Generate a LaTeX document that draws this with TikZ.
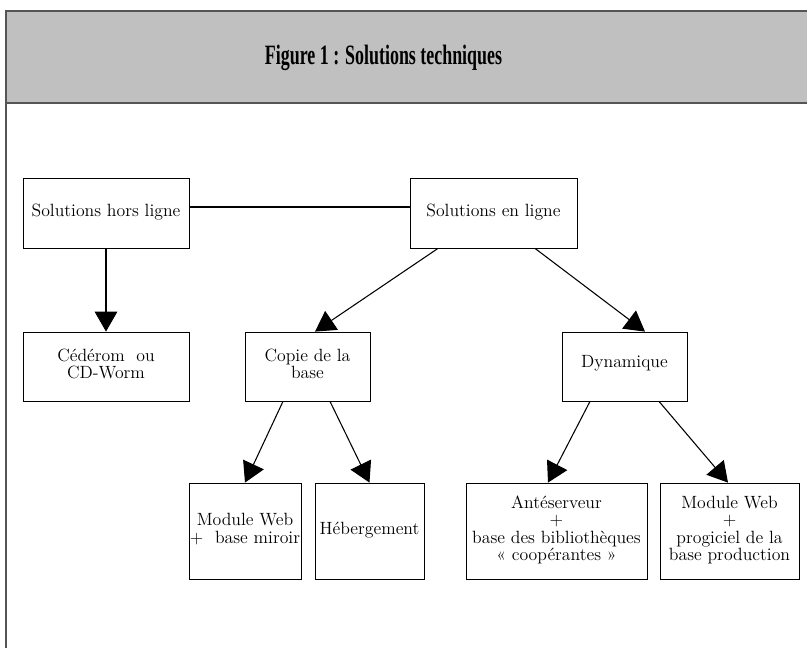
\documentclass[tikz,border=0pt]{standalone}
\usepackage{fontspec}
\usepackage{graphicx}
\usetikzlibrary{arrows.meta,calc}
\newfontfamily\titlefont{Liberation Serif}
\newcommand\boxfont{\fontsize{13.3}{13}\selectfont}
\newcommand\lifted[2]{\raisebox{#1}{\begin{tabular}{@{}c@{}}#2\end{tabular}}}
\definecolor{headgray}{RGB}{192,192,192}
\definecolor{framegray}{RGB}{85,85,85}
\begin{document}
\begin{tikzpicture}[x=0.75pt,y=-0.75pt,
  box/.style={draw, line width=0.6pt, inner sep=0pt, font=\boxfont, align=center},
  sz/.style 2 args={minimum width=#1*0.75pt, minimum height=#2*0.75pt},
  arr/.style={-{Triangle[length=15pt,width=17pt]}, line width=0.8pt},
  frameline/.style={draw=framegray, line width=1.2pt}]
\useasboundingbox (0,0) rectangle (807,648);
% header band and frame
\fill[headgray] (6,11) rectangle (807,103);
\draw[frameline] (807,11) -- (6,11) -- (6,648);
\draw[frameline] (6,103) -- (807,103);
\node[anchor=base, inner sep=0pt] (title) at (383.5,64.5)
  {\titlefont\bfseries\fontsize{21}{25}\selectfont\scalebox{0.64}[1]{Figure 1 : Solutions techniques}};
% boxes
\node[box, sz={166}{70}] (hl) at (106,213) {\lifted{0pt}{Solutions hors ligne}};
\node[box, sz={167}{70}] (el) at (493.5,213) {\lifted{0pt}{Solutions en ligne}};
\node[box, sz={166}{69}] (ced) at (106,366.5) {\lifted{3.4pt}{Cédérom~ ou\\CD-Worm}};
\node[box, sz={125}{69}] (cop) at (307.5,366.5) {\lifted{3.4pt}{Copie de la\\base}};
\node[box, sz={125}{69}] (dyn) at (624.5,366.5) {\lifted{7pt}{Dynamique}};
\node[box, sz={112}{96}] (mw1) at (245,531) {\lifted{5pt}{Module Web\\+~ base miroir}};
\node[box, sz={109}{96}] (heb) at (369.5,531) {\lifted{3pt}{Hébergement}};
\node[box, sz={181}{96}] (ant) at (556.5,531) {\lifted{0pt}{Antéserveur\\+\\base des bibliothèques\\«~coopérantes~»}};
\node[box, sz={139}{96}] (mw2) at (729.5,531) {\lifted{0pt}{Module Web\\+\\progiciel de la\\base production}};
% connectors
\draw[line width=0.8pt] ($(hl.east)+(0,-6)$) -- ($(el.west)+(0,-6)$);
\draw[arr] (hl.south) -- (ced.north);
\draw[arr] ($(el.south)+(-55.5,0)$) -- ($(cop.north)+(7.5,0)$);
\draw[arr] ($(el.south)+(41.5,0)$) -- ($(dyn.north)+(20.5,0)$);
\draw[arr] ($(cop.south)+(-24.5,0)$) -- (mw1.north);
\draw[arr] ($(cop.south)+(22.5,0)$) -- (heb.north);
\draw[arr] ($(dyn.south)+(-34.5,0)$) -- ($(ant.north)+(-8.5,0)$);
\draw[arr] ($(dyn.south)+(34.5,0)$) -- ($(mw2.north)+(-1.5,0)$);
\end{tikzpicture}
\end{document}
